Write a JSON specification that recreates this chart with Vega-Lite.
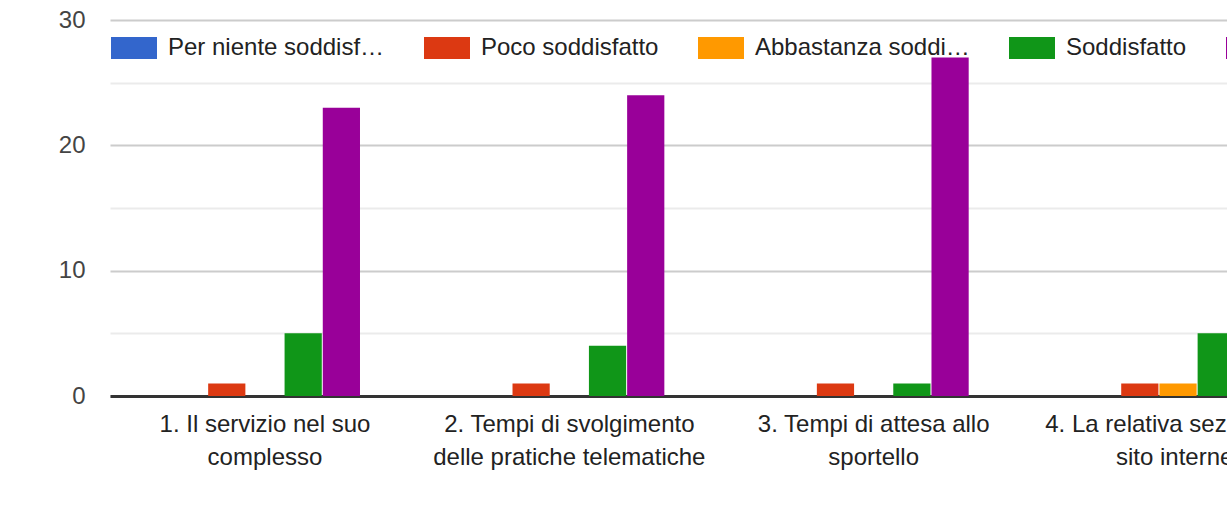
{
  "$schema": "https://vega.github.io/schema/vega-lite/v6.json",
  "autosize": "none",
  "padding": {"left": 110, "top": 20, "right": 0, "bottom": 129},
  "width": 1223,
  "height": 376,
  "background": "white",
  "config": {
    "view": {"stroke": null},
    "font": "Liberation Sans"
  },
  "data": {
    "values": [
      {"q": "1. Il servizio nel suo|complesso", "s": "Per niente soddisfatto", "n": 0},
      {"q": "1. Il servizio nel suo|complesso", "s": "Poco soddisfatto", "n": 1},
      {"q": "1. Il servizio nel suo|complesso", "s": "Abbastanza soddisfatto", "n": 0},
      {"q": "1. Il servizio nel suo|complesso", "s": "Soddisfatto", "n": 5},
      {"q": "1. Il servizio nel suo|complesso", "s": "Molto soddisfatto", "n": 23},
      {"q": "2. Tempi di svolgimento|delle pratiche telematiche", "s": "Per niente soddisfatto", "n": 0},
      {"q": "2. Tempi di svolgimento|delle pratiche telematiche", "s": "Poco soddisfatto", "n": 1},
      {"q": "2. Tempi di svolgimento|delle pratiche telematiche", "s": "Abbastanza soddisfatto", "n": 0},
      {"q": "2. Tempi di svolgimento|delle pratiche telematiche", "s": "Soddisfatto", "n": 4},
      {"q": "2. Tempi di svolgimento|delle pratiche telematiche", "s": "Molto soddisfatto", "n": 24},
      {"q": "3. Tempi di attesa allo|sportello", "s": "Per niente soddisfatto", "n": 0},
      {"q": "3. Tempi di attesa allo|sportello", "s": "Poco soddisfatto", "n": 1},
      {"q": "3. Tempi di attesa allo|sportello", "s": "Abbastanza soddisfatto", "n": 0},
      {"q": "3. Tempi di attesa allo|sportello", "s": "Soddisfatto", "n": 1},
      {"q": "3. Tempi di attesa allo|sportello", "s": "Molto soddisfatto", "n": 27},
      {"q": "4. La relativa sezione del|sito internet", "s": "Per niente soddisfatto", "n": 0},
      {"q": "4. La relativa sezione del|sito internet", "s": "Poco soddisfatto", "n": 1},
      {"q": "4. La relativa sezione del|sito internet", "s": "Abbastanza soddisfatto", "n": 1},
      {"q": "4. La relativa sezione del|sito internet", "s": "Soddisfatto", "n": 5},
      {"q": "4. La relativa sezione del|sito internet", "s": "Molto soddisfatto", "n": 22}
    ]
  },
  "mark": {"type": "bar"},
  "encoding": {
    "x": {
      "field": "q",
      "type": "nominal",
      "sort": null,
      "scale": {"paddingInner": 0.3756, "paddingOuter": 0.197},
      "axis": {
        "title": null,
        "labelAngle": 0,
        "labelExpr": "split(datum.value, '|')",
        "labelFontSize": 24,
        "labelColor": "#222222",
        "labelLineHeight": 33,
        "labelPadding": 16,
        "labelLimit": 400,
        "ticks": false,
        "domainColor": "#333333",
        "domainWidth": 3
      }
    },
    "xOffset": {
      "field": "s",
      "type": "nominal",
      "sort": ["Per niente soddisfatto", "Poco soddisfatto", "Abbastanza soddisfatto", "Soddisfatto", "Molto soddisfatto"],
      "scale": {"paddingInner": 0.026, "paddingOuter": 0}
    },
    "y": {
      "field": "n",
      "type": "quantitative",
      "scale": {"domain": [0, 30], "nice": false},
      "axis": {
        "title": null,
        "values": [0, 5, 10, 15, 20, 25, 30],
        "labelExpr": "datum.value % 10 === 0 ? datum.label : ''",
        "labelFontSize": 24,
        "labelColor": "#444444",
        "labelPadding": 25,
        "ticks": false,
        "domain": false,
        "gridWidth": 2,
        "gridColor": {"condition": {"test": "datum.value % 10 === 0", "value": "#cccccc"}, "value": "#ebebeb"}
      }
    },
    "color": {
      "field": "s",
      "type": "nominal",
      "sort": ["Per niente soddisfatto", "Poco soddisfatto", "Abbastanza soddisfatto", "Soddisfatto", "Molto soddisfatto"],
      "scale": {
        "domain": ["Per niente soddisfatto", "Poco soddisfatto", "Abbastanza soddisfatto", "Soddisfatto", "Molto soddisfatto"],
        "range": ["#3366cc", "#dc3912", "#ff9900", "#109618", "#990099"]
      },
      "legend": {
        "title": null,
        "orient": "none",
        "legendX": 1,
        "legendY": 5,
        "direction": "horizontal",
        "columns": 5,
        "symbolType": "M-1,-0.478H1V0.478H-1Z",
        "symbolSize": 2116,
        "symbolStrokeWidth": 0,
        "symbolOpacity": 1,
        "labelFontSize": 24,
        "labelColor": "#222222",
        "labelLimit": 220,
        "labelOffset": 11,
        "columnPadding": 39
      }
    }
  }
}
